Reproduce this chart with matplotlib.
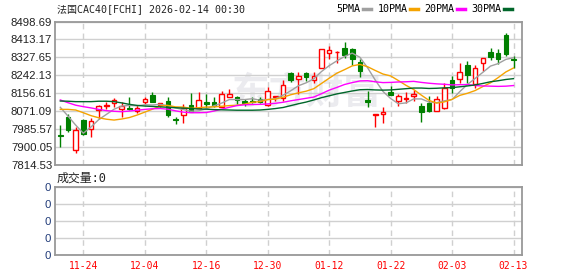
import numpy as np
import matplotlib.pyplot as plt
from matplotlib.lines import Line2D

# trading days shown on the chart (MM-DD)
dates = ['11-19', '11-20', '11-21', '11-24', '11-25', '11-26', '11-27', '11-28',
         '12-01', '12-02', '12-03', '12-04', '12-05', '12-08', '12-09', '12-10',
         '12-11', '12-12', '12-15', '12-16', '12-17', '12-18', '12-19', '12-22',
         '12-23', '12-24', '12-29', '12-30', '12-31', '01-02', '01-05', '01-06',
         '01-07', '01-08', '01-09', '01-12', '01-13', '01-14', '01-15', '01-16',
         '01-19', '01-20', '01-21', '01-22', '01-23', '01-26', '01-27', '01-28',
         '01-29', '01-30', '02-02', '02-03', '02-04', '02-05', '02-06', '02-09',
         '02-10', '02-11', '02-12', '02-13']

opens = [7958, 8041, 7885, 8028, 7984, 8076, 8097, 8108, 8079, 8087,
         8073, 8116, 8148, 8100, 8119, 8033, 8052, 8100, 8087, 8116,
         8116, 8092, 8137, 8140, 8121, 8119, 8129, 8100, 8140, 8132,
         8252, 8223, 8254, 8220, 8275, 8347, 8352, 8371, 8366, 8307,
         8124, 8052, 8056, 8164, 8121, 8129, 8143, 8095, 8108, 8073,
         8084, 8220, 8223, 8291, 8200, 8299, 8355, 8347, 8435, 8320]
highs = [8004, 8056, 7993, 8035, 8036, 8100, 8113, 8132, 8116, 8137,
         8100, 8140, 8164, 8110, 8137, 8044, 8105, 8159, 8164, 8153,
         8140, 8168, 8175, 8142, 8127, 8140, 8137, 8185, 8143, 8220,
         8259, 8259, 8259, 8259, 8366, 8382, 8360, 8403, 8371, 8318,
         8168, 8057, 8089, 8191, 8153, 8164, 8172, 8108, 8143, 8143,
         8204, 8239, 8302, 8312, 8291, 8323, 8371, 8366, 8443, 8334]
lows = [7901, 7972, 7872, 7956, 7946, 8032, 8079, 8089, 8044, 8076,
        8060, 8103, 8115, 8090, 8041, 8008, 8013, 8067, 8084, 8084,
        8089, 8089, 8137, 8105, 8095, 8108, 8108, 8095, 8119, 8119,
        8211, 8153, 8215, 8204, 8275, 8318, 8302, 8323, 8291, 8232,
        8089, 7996, 8015, 8148, 8097, 8108, 8121, 8020, 8068, 8073,
        8079, 8156, 8207, 8207, 8180, 8264, 8315, 8294, 8336, 8275]
closes = [7954, 7980, 7980, 7960, 8024, 8095, 8100, 8122, 8095, 8079,
          8084, 8127, 8116, 8108, 8052, 8028, 8087, 8068, 8124, 8105,
          8095, 8152, 8152, 8124, 8108, 8116, 8116, 8167, 8143, 8194,
          8220, 8239, 8235, 8239, 8366, 8363, 8354, 8339, 8318, 8264,
          8116, 8057, 8068, 8148, 8143, 8132, 8153, 8068, 8073, 8127,
          8180, 8180, 8259, 8243, 8275, 8323, 8331, 8318, 8344, 8315]

ma5 = [8089, 8047, 8004, 7965, 7995, 8030, 8055, 8080, 8095, 8098,
       8096, 8101, 8100, 8103, 8097, 8086, 8078, 8070, 8072, 8082,
       8096, 8109, 8126, 8126, 8126, 8130, 8123, 8126, 8130, 8147,
       8168, 8192, 8206, 8225, 8260, 8288, 8311, 8332, 8348, 8328,
       8278, 8219, 8165, 8131, 8106, 8110, 8129, 8129, 8114, 8111,
       8120, 8126, 8164, 8198, 8227, 8256, 8286, 8298, 8318, 8326]
ma10 = [8079, 8079, 8076, 8063, 8049, 8039, 8032, 8028, 8033, 8040,
        8052, 8066, 8080, 8095, 8098, 8091, 8090, 8084, 8087, 8090,
        8091, 8094, 8097, 8099, 8104, 8113, 8116, 8126, 8128, 8137,
        8149, 8158, 8166, 8178, 8203, 8228, 8252, 8269, 8287, 8294,
        8283, 8265, 8248, 8239, 8217, 8194, 8174, 8147, 8122, 8109,
        8115, 8127, 8146, 8156, 8169, 8188, 8206, 8231, 8258, 8277]
ma20 = [8124, 8111, 8099, 8092, 8086, 8079, 8073, 8070, 8068, 8071,
        8075, 8079, 8082, 8083, 8080, 8072, 8066, 8063, 8063, 8064,
        8071, 8080, 8089, 8097, 8101, 8102, 8103, 8105, 8108, 8113,
        8120, 8126, 8132, 8138, 8154, 8171, 8184, 8198, 8207, 8215,
        8216, 8211, 8207, 8208, 8210, 8211, 8213, 8208, 8204, 8201,
        8199, 8196, 8197, 8198, 8193, 8191, 8190, 8189, 8190, 8193]
ma30 = [8119, 8118, 8116, 8116, 8116, 8118, 8118, 8116, 8110, 8103,
        8098, 8095, 8093, 8091, 8089, 8087, 8085, 8083, 8081, 8080,
        8078, 8077, 8076, 8075, 8075, 8075, 8076, 8079, 8083, 8088,
        8097, 8106, 8114, 8124, 8135, 8144, 8153, 8160, 8167, 8173,
        8174, 8172, 8171, 8172, 8175, 8178, 8181, 8181, 8179, 8180,
        8182, 8183, 8187, 8191, 8196, 8203, 8211, 8216, 8222, 8226]

price_ticks = [8498.69, 8413.17, 8327.65, 8242.13, 8156.61,
               8071.09, 7985.57, 7900.05, 7814.53]
label_dates = ['11-24', '12-04', '12-16', '12-30', '01-12', '01-22', '02-03', '02-13']
vol_ticks = [0, 1, 2, 3, 4]

plt.rcParams['font.family'] = ['DejaVu Sans Mono', 'Noto Sans CJK SC']

RED = '#ff0000'
GREEN = '#008000'
GRID = '#d0d0d0'
FRAME = '#999999'

W, H = 578, 276
fig = plt.figure(figsize=(W / 100, H / 100), dpi=100)
ax = fig.add_axes([55 / W, 1 - 164.7 / H, 467 / W, 143.1 / H])
axv = fig.add_axes([55 / W, 1 - 255.3 / H, 467 / W, 68.6 / H])

x = np.arange(len(dates))
o = np.array(opens, dtype=float)
h = np.array(highs, dtype=float)
l = np.array(lows, dtype=float)
c = np.array(closes, dtype=float)
up = c >= o
dn = ~up
tick_idx = [dates.index(d) for d in label_dates]

# watermark
ax.text(0.54, 0.5, '东方财富', transform=ax.transAxes, ha='center', va='center',
        fontsize=27, color='#ebebef', family='Noto Sans CJK SC', fontweight='bold',
        fontstyle='italic', zorder=0)

# candles: red hollow = up, green filled = down
ax.vlines(x[up], c[up], h[up], color=RED, lw=1, zorder=3)
ax.vlines(x[up], l[up], o[up], color=RED, lw=1, zorder=3)
ax.bar(x[up], c[up] - o[up], bottom=o[up], width=0.6, facecolor='white',
       edgecolor=RED, linewidth=1, zorder=3)
ax.vlines(x[dn], l[dn], h[dn], color=GREEN, lw=1, zorder=3)
ax.bar(x[dn], o[dn] - c[dn], bottom=c[dn], width=0.6, facecolor=GREEN,
       edgecolor=GREEN, linewidth=0.8, zorder=3)

ma_colors = ['#a0a0a0', '#f5a300', '#ff00ff', '#00662a']
ma_names = ['5PMA', '10PMA', '20PMA', '30PMA']
for vals, col in zip([ma5, ma10, ma20, ma30], ma_colors):
    ax.plot(x, vals, color=col, lw=1.0, zorder=4)

for a in (ax, axv):
    a.set_xlim(-0.69, 60.1)
    a.set_xticks(tick_idx)
    a.xaxis.grid(True, color=GRID, linestyle=(0, (4, 3)), lw=1)
    a.yaxis.grid(True, color=GRID, linestyle='-', lw=1)
    a.set_axisbelow(True)
    for s in a.spines.values():
        s.set_color(FRAME)
        s.set_linewidth(1.3)
    a.tick_params(length=0)

ax.set_ylim(7814.53, 8498.69)
ax.set_yticks(price_ticks)
ax.set_yticklabels([f'{v:.2f}' for v in price_ticks], color='#222222',
                   family='Liberation Sans', fontsize=8.2)
ax.tick_params(axis='y', pad=2)
ax.set_xticklabels([])

axv.set_ylim(0, 4)
axv.set_yticks(vol_ticks)
axv.set_yticklabels(['0'] * len(vol_ticks), color='#1f3a78',
                    family='Liberation Sans', fontsize=8.2)
axv.tick_params(axis='y', pad=3)
axv.set_xticklabels(label_dates, color=RED, fontsize=7)
axv.tick_params(axis='x', pad=4)

fig.text(57 / W, 1 - 9.5 / H, '法国CAC40[FCHI] 2026-02-14 00:30', ha='left',
         va='center', fontsize=7.2, color='#222222')
fig.text(57 / W, 1 - 178 / H, '成交量:0', ha='left', va='center',
         fontsize=8.6, color='#222222')

handles = [Line2D([], [], color=col, lw=2.5) for col in ma_colors]
fig.legend(handles, ma_names, ncol=4, markerfirst=False, frameon=False,
           loc='center', bbox_to_anchor=(424 / W, 1 - 9.5 / H), fontsize=7.2,
           handlelength=0.75, handletextpad=0.25, columnspacing=0.7,
           borderpad=0, borderaxespad=0)

fig.savefig('out.png', dpi=100)
